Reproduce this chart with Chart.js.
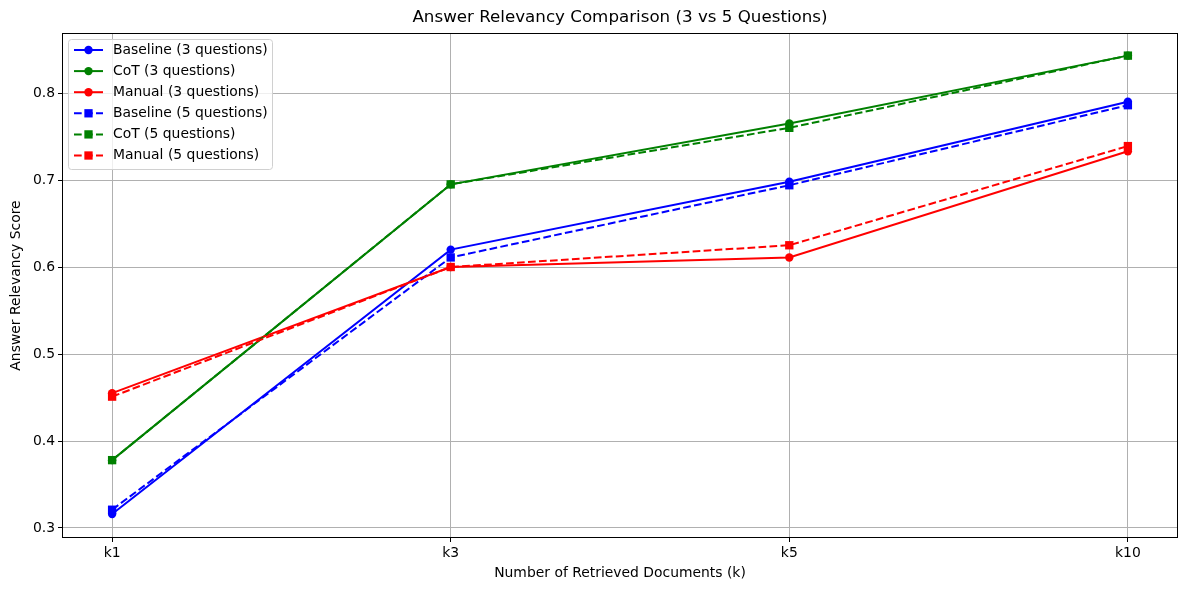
<!DOCTYPE html>
<html lang="en">
<head>
  <meta charset="UTF-8">
  <title>Answer Relevancy Comparison</title>
  <script src="https://cdn.jsdelivr.net/npm/chart.js"></script>
  <style>
    body { margin: 0; background: #fff; }
    canvas { display: block; }
  </style>
</head>
<body>
  <canvas id="chart" width="1189" height="590"></canvas>

  <script>
    const categories = ['k1', 'k3', 'k5', 'k10'];
    const yTicks = [0.3, 0.4, 0.5, 0.6, 0.7, 0.8];

    const baseline3 = [0.316, 0.620, 0.698, 0.790];
    const cot3 = [0.378, 0.695, 0.765, 0.843];
    const manual3 = [0.455, 0.600, 0.611, 0.733];
    const baseline5 = [0.321, 0.611, 0.694, 0.786];
    const cot5 = [0.378, 0.695, 0.760, 0.843];
    const manual5 = [0.451, 0.600, 0.625, 0.739];

    const FONT = 'DejaVu Sans';
    const FS = 13.9;

    function series(label, values, color, dashed, order) {
      return {
        label: label,
        data: values.map((v, i) => ({ x: i, y: v })),
        borderColor: color,
        backgroundColor: color,
        borderWidth: 2,
        borderDash: dashed ? [7.7, 3.3] : [],
        pointStyle: dashed ? 'rect' : 'circle',
        pointRadius: dashed ? 5.9 : 4.2,
        pointBorderWidth: 0,
        pointBackgroundColor: color,
        tension: 0,
        order: order
      };
    }

    // frame, title and legend drawn the way matplotlib does it
    const decor = {
      id: 'decor',
      afterDraw(chart) {
        const ctx = chart.ctx;
        const a = chart.chartArea;
        ctx.save();
        ctx.strokeStyle = '#000';
        ctx.lineWidth = 1;
        ctx.setLineDash([]);
        ctx.strokeRect(Math.round(a.left) + 0.5, Math.round(a.top) + 0.5,
          Math.round(a.right - a.left) - 1, Math.round(a.bottom - a.top) - 1);

        ctx.fillStyle = '#000';
        ctx.font = '16.7px ' + FONT;
        ctx.textAlign = 'center';
        ctx.textBaseline = 'middle';
        ctx.fillText('Answer Relevancy Comparison (3 vs 5 Questions)', (a.left + a.right) / 2, 18);

        // legend box
        const bx = a.left + 6, by = a.top + 6, bw = 204, bh = 130;
        ctx.fillStyle = 'rgba(255,255,255,0.8)';
        ctx.strokeStyle = '#d0d0d0';
        ctx.beginPath();
        ctx.roundRect(bx + 0.5, by + 0.5, bw, bh, 3);
        ctx.fill();
        ctx.stroke();

        chart.data.datasets.forEach((ds, i) => {
          const y = by + 11 + i * 21.1;
          ctx.strokeStyle = ds.borderColor;
          ctx.lineWidth = 2;
          ctx.setLineDash(ds.borderDash);
          ctx.beginPath();
          ctx.moveTo(bx + 6, y);
          ctx.lineTo(bx + 35, y);
          ctx.stroke();
          ctx.setLineDash([]);
          ctx.fillStyle = ds.borderColor;
          if (ds.pointStyle === 'rect') {
            ctx.fillRect(bx + 20.5 - 4.15, y - 4.15, 8.3, 8.3);
          } else {
            ctx.beginPath();
            ctx.arc(bx + 20.5, y, 4.2, 0, Math.PI * 2);
            ctx.fill();
          }
          ctx.fillStyle = '#000';
          ctx.font = FS + 'px ' + FONT;
          ctx.textAlign = 'left';
          ctx.textBaseline = 'middle';
          ctx.fillText(ds.label, bx + 45, y);
        });
        ctx.restore();
      }
    };

    new Chart(document.getElementById('chart'), {
      type: 'line',
      data: {
        datasets: [
          series('Baseline (3 questions)', baseline3, '#0000ff', false, 6),
          series('CoT (3 questions)', cot3, '#008000', false, 5),
          series('Manual (3 questions)', manual3, '#ff0000', false, 4),
          series('Baseline (5 questions)', baseline5, '#0000ff', true, 3),
          series('CoT (5 questions)', cot5, '#008000', true, 2),
          series('Manual (5 questions)', manual5, '#ff0000', true, 1)
        ]
      },
      options: {
        responsive: false,
        animation: false,
        layout: { padding: { top: 33, right: 11, left: 0, bottom: 0 } },
        plugins: {
          legend: { display: false },
          title: { display: false },
          tooltip: { enabled: false }
        },
        scales: {
          x: {
            type: 'linear',
            min: -0.148,
            max: 3.148,
            afterBuildTicks: s => { s.ticks = categories.map((c, i) => ({ value: i })); },
            afterFit: s => { s.height = 52; },
            ticks: {
              callback: v => categories[v],
              color: '#000',
              font: { family: FONT, size: FS },
              padding: 3,
              maxRotation: 0
            },
            grid: { color: '#b0b0b0', lineWidth: 1, tickColor: '#000', tickLength: 4 },
            border: { display: false },
            title: {
              display: true,
              text: 'Number of Retrieved Documents (k)',
              color: '#000',
              font: { family: FONT, size: FS },
              padding: { top: 0, bottom: 8 }
            }
          },
          y: {
            min: 0.2885,
            max: 0.869,
            afterBuildTicks: s => { s.ticks = yTicks.map(v => ({ value: v })); },
            afterFit: s => { s.width = 62; },
            ticks: {
              callback: v => v.toFixed(1),
              color: '#000',
              font: { family: FONT, size: FS },
              padding: 3
            },
            grid: { color: '#b0b0b0', lineWidth: 1, tickColor: '#000', tickLength: 4 },
            border: { display: false },
            title: {
              display: true,
              text: 'Answer Relevancy Score',
              color: '#000',
              font: { family: FONT, size: FS },
              padding: { top: 8, bottom: 0 }
            }
          }
        }
      },
      plugins: [decor]
    });
  </script>
</body>
</html>
